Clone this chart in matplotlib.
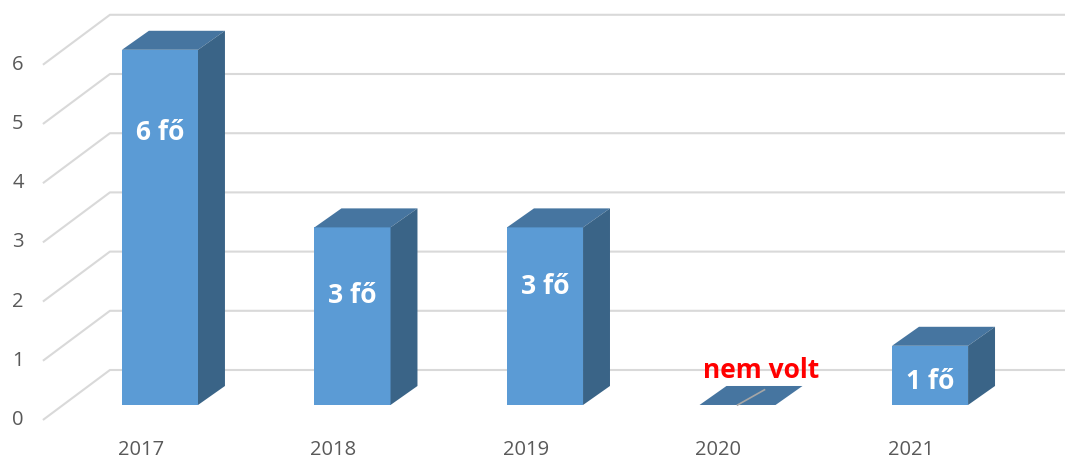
import matplotlib.pyplot as plt
from matplotlib.patches import Polygon

# data
years = ["2017", "2018", "2019", "2020", "2021"]
values = [6, 3, 3, 0, 1]
labels = ["6 fő", "3 fő", "3 fő", "nem volt", "1 fő"]
label_pos = [4.6, 1.85, 2.0, 0.59, 0.4]
yticks = [0, 1, 2, 3, 4, 5, 6]

# colours / geometry (data units: x = category, y = value)
FRONT = "#5b9bd5"
TOP = "#4675a0"
SIDE = "#3a6487"
GRID = "#d9d9d9"
W = 0.395          # bar width
DX, DY = 0.140, 0.321   # bar depth offset
WALL_F = (-0.608, -0.253)  # front end of wall gridline
WALL_B = (-0.260, 0.591)   # back end of wall gridline

fig = plt.figure(figsize=(10.65, 4.62), dpi=100)
ax = fig.add_axes([0, 0, 1, 1])
ax.set_xlim(-0.831, 4.701)
ax.set_ylim(-0.963, 6.841)
ax.axis("off")

# gridlines (wall + back)
for v in yticks:
    ax.plot([WALL_F[0], WALL_B[0], 4.701], [v + WALL_F[1], v + WALL_B[1], v + WALL_B[1]],
            color=GRID, lw=1.5, zorder=1, solid_capstyle="butt")
    ax.text(WALL_F[0] - 0.1, v + WALL_F[1], str(v), ha="right", va="center",
            fontsize=14.5, color="#595959", family="Open Sans")

for i, (yr, v, lab, lp) in enumerate(zip(years, values, labels, label_pos)):
    x0, x1 = i - W / 2, i + W / 2
    front = Polygon([(x0, 0), (x1, 0), (x1, v), (x0, v)], closed=True,
                    fc=FRONT, ec="none", zorder=3)
    top = Polygon([(x0, v), (x1, v), (x1 + DX, v + DY), (x0 + DX, v + DY)], closed=True,
                  fc=TOP, ec="none", zorder=3)
    side = Polygon([(x1, 0), (x1 + DX, DY), (x1 + DX, v + DY), (x1, v)], closed=True,
                   fc=SIDE, ec="none", zorder=3)
    for p in (front, top, side):
        ax.add_patch(p)
    if v == 0:
        ax.plot([i, i + DX], [0, DY * 0.8], color="#a6a6a6", lw=1.2, zorder=4)
        ax.text(i + 0.125, lp, lab, ha="center", va="center", fontsize=19,
                fontweight="bold", color="#ff0000", family="Open Sans", zorder=5)
    else:
        ax.text(i, lp, lab, ha="center", va="center", fontsize=19,
                fontweight="bold", color="white", family="Open Sans", zorder=5)
    ax.text(i - 0.1, -0.76, yr, ha="center", va="center", fontsize=14.5,
            color="#595959", family="Open Sans")

fig.savefig("out.png", dpi=100, facecolor="white")
